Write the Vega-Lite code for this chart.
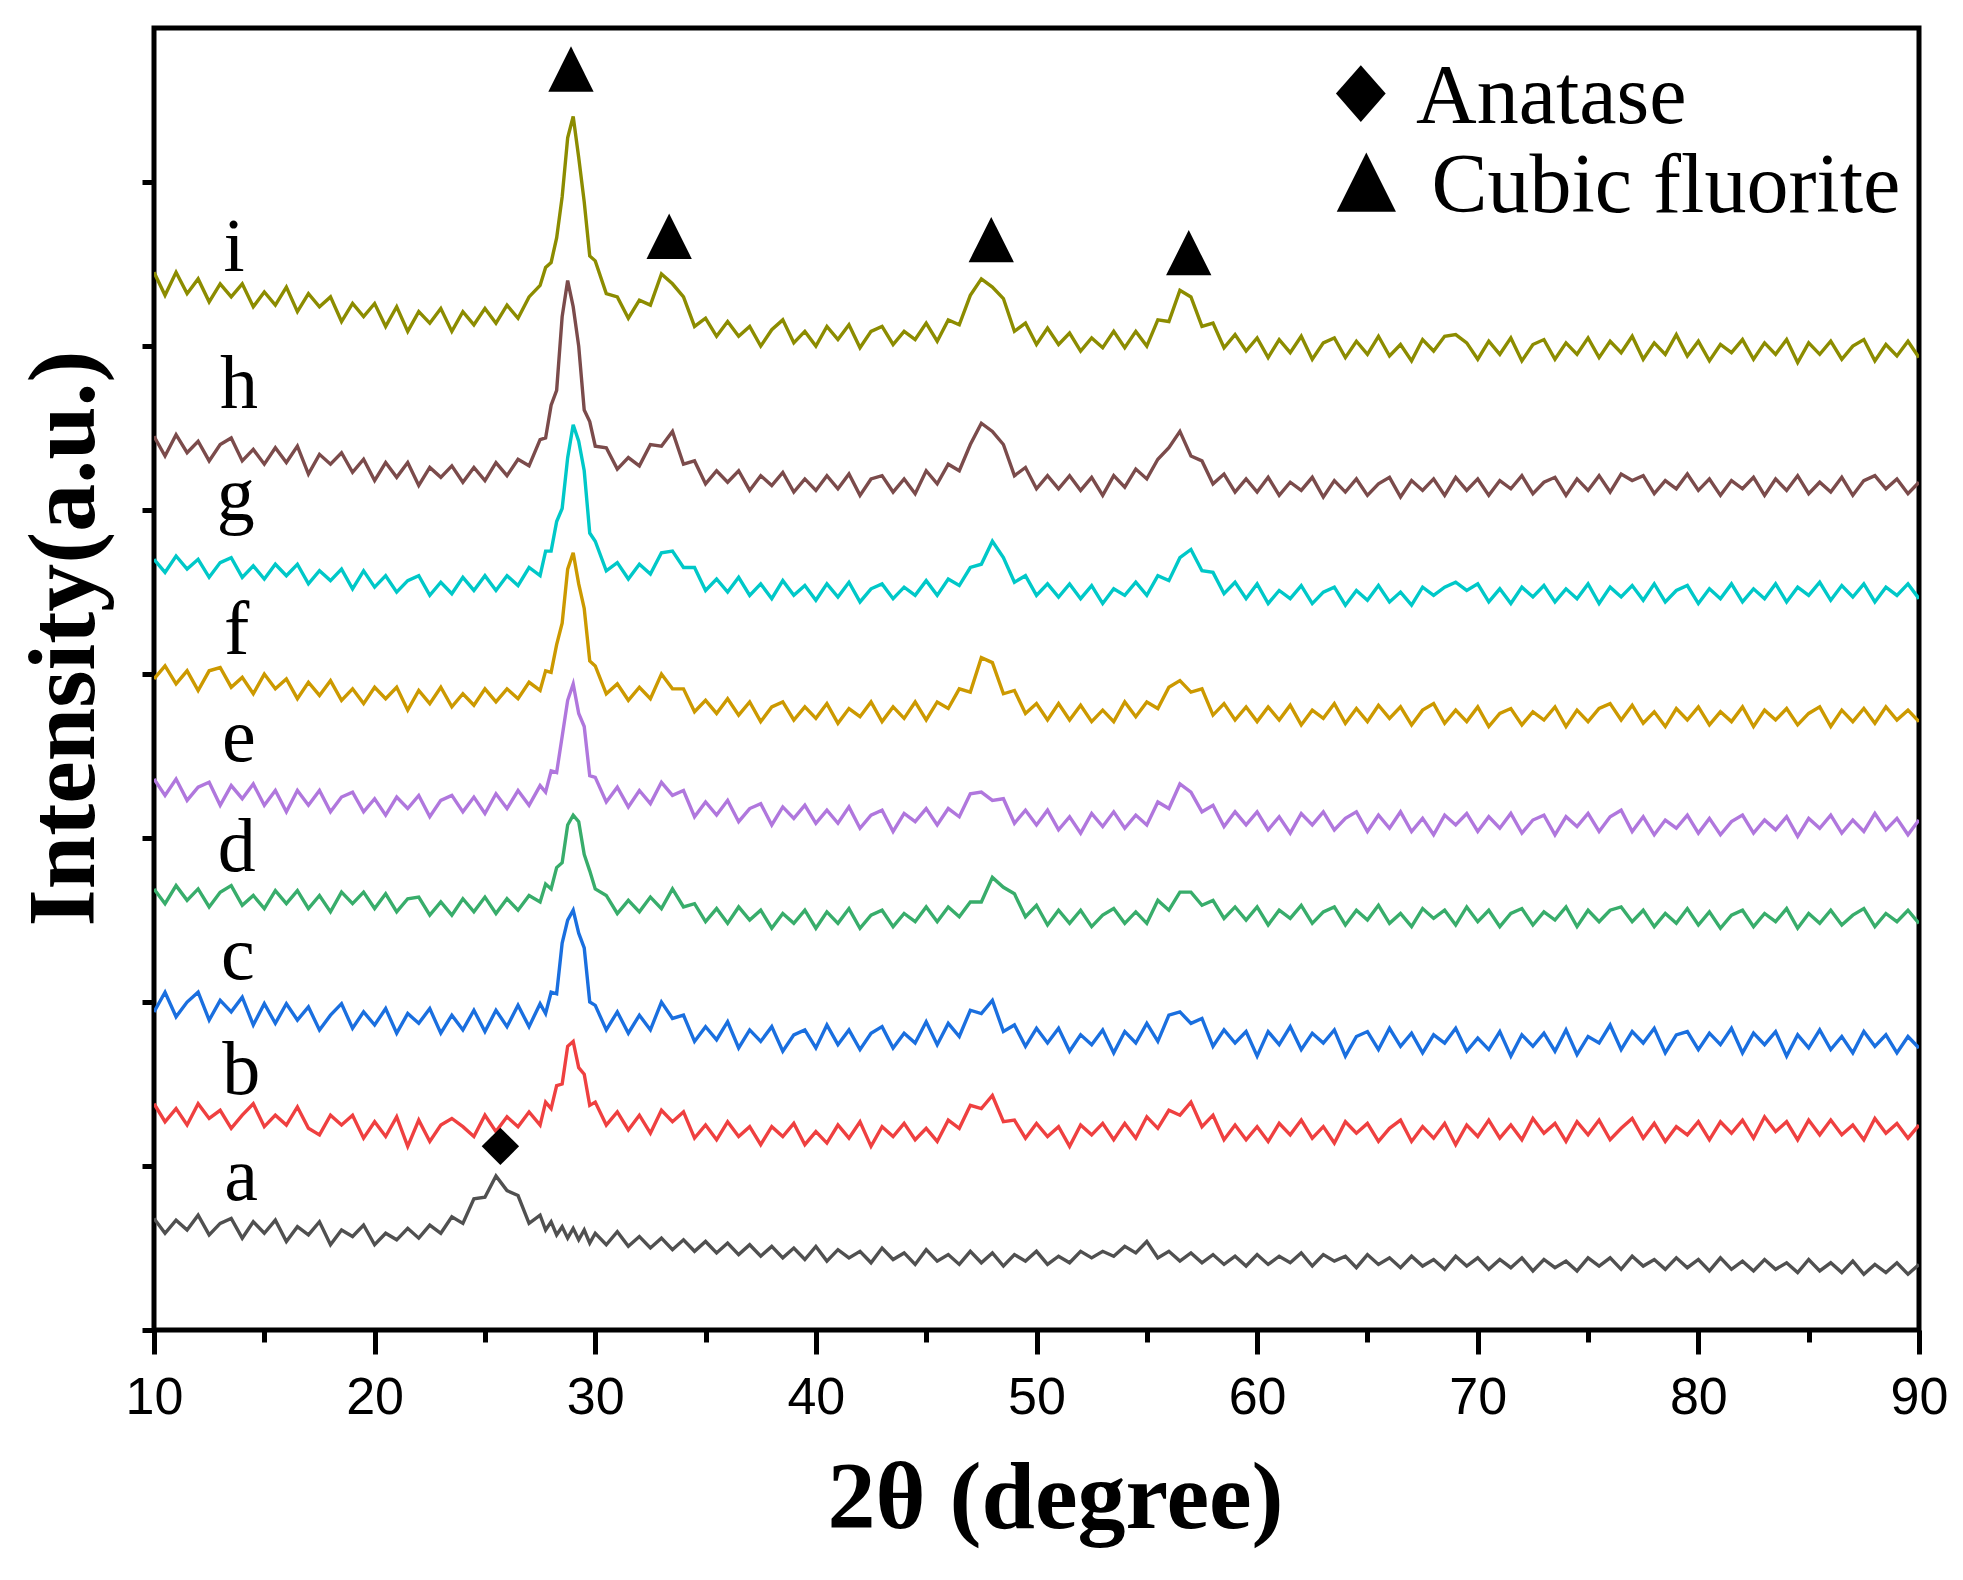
{
  "$schema": "https://vega.github.io/schema/vega-lite/v6.json",
  "width": 1765,
  "height": 1302,
  "autosize": {"type": "none"},
  "padding": {"left": 154, "top": 28, "right": 44, "bottom": 250},
  "background": "white",
  "config": {
    "view": {"stroke": "black", "strokeWidth": 5},
    "font": "Liberation Serif"
  },
  "datasets": {
    "xrd": [
      {"x":10,"a":0.68,"b":1.38,"c":1.94,"d":2.69,"e":3.36,"f":3.97,"g":4.70,"h":5.45,"i":6.45},
      {"x":10.5,"a":0.59,"b":1.27,"c":2.06,"d":2.60,"e":3.26,"f":4.05,"g":4.62,"h":5.33,"i":6.31},
      {"x":11,"a":0.67,"b":1.35,"c":1.91,"d":2.71,"e":3.36,"f":3.94,"g":4.72,"h":5.46,"i":6.45},
      {"x":11.5,"a":0.61,"b":1.25,"c":2.00,"d":2.62,"e":3.23,"f":4.02,"g":4.64,"h":5.35,"i":6.32},
      {"x":12,"a":0.70,"b":1.38,"c":2.06,"d":2.69,"e":3.31,"f":3.90,"g":4.70,"h":5.42,"i":6.41},
      {"x":12.5,"a":0.58,"b":1.29,"c":1.89,"d":2.58,"e":3.34,"f":4.02,"g":4.59,"h":5.30,"i":6.27},
      {"x":13,"a":0.65,"b":1.34,"c":2.01,"d":2.67,"e":3.20,"f":4.04,"g":4.68,"h":5.40,"i":6.38},
      {"x":13.5,"a":0.68,"b":1.23,"c":1.94,"d":2.71,"e":3.32,"f":3.92,"g":4.71,"h":5.44,"i":6.30},
      {"x":14,"a":0.56,"b":1.31,"c":2.03,"d":2.59,"e":3.24,"f":3.98,"g":4.59,"h":5.30,"i":6.38},
      {"x":14.5,"a":0.66,"b":1.38,"c":1.86,"d":2.65,"e":3.33,"f":3.88,"g":4.66,"h":5.37,"i":6.24},
      {"x":15,"a":0.59,"b":1.24,"c":1.99,"d":2.57,"e":3.20,"f":4.00,"g":4.58,"h":5.28,"i":6.33},
      {"x":15.5,"a":0.67,"b":1.31,"c":1.87,"d":2.68,"e":3.29,"f":3.91,"g":4.67,"h":5.38,"i":6.25},
      {"x":16,"a":0.54,"b":1.25,"c":1.99,"d":2.60,"e":3.16,"f":3.97,"g":4.60,"h":5.29,"i":6.36},
      {"x":16.5,"a":0.63,"b":1.36,"c":1.89,"d":2.68,"e":3.29,"f":3.85,"g":4.67,"h":5.39,"i":6.21},
      {"x":17,"a":0.58,"b":1.23,"c":1.97,"d":2.57,"e":3.20,"f":3.95,"g":4.55,"h":5.22,"i":6.32},
      {"x":17.5,"a":0.66,"b":1.19,"c":1.83,"d":2.65,"e":3.29,"f":3.87,"g":4.63,"h":5.34,"i":6.24},
      {"x":18,"a":0.52,"b":1.31,"c":1.92,"d":2.55,"e":3.16,"f":3.96,"g":4.57,"h":5.28,"i":6.30},
      {"x":18.5,"a":0.61,"b":1.25,"c":1.99,"d":2.67,"e":3.25,"f":3.84,"g":4.64,"h":5.35,"i":6.15},
      {"x":19,"a":0.57,"b":1.31,"c":1.84,"d":2.60,"e":3.28,"f":3.91,"g":4.52,"h":5.23,"i":6.26},
      {"x":19.5,"a":0.64,"b":1.17,"c":1.94,"d":2.67,"e":3.16,"f":3.82,"g":4.63,"h":5.31,"i":6.18},
      {"x":20,"a":0.52,"b":1.27,"c":1.86,"d":2.57,"e":3.24,"f":3.92,"g":4.53,"h":5.18,"i":6.26},
      {"x":20.5,"a":0.59,"b":1.18,"c":1.96,"d":2.66,"e":3.14,"f":3.85,"g":4.60,"h":5.29,"i":6.12},
      {"x":21,"a":0.55,"b":1.30,"c":1.81,"d":2.55,"e":3.25,"f":3.92,"g":4.50,"h":5.20,"i":6.24},
      {"x":21.5,"a":0.62,"b":1.12,"c":1.93,"d":2.63,"e":3.18,"f":3.78,"g":4.57,"h":5.29,"i":6.09},
      {"x":22,"a":0.56,"b":1.28,"c":1.87,"d":2.64,"e":3.26,"f":3.90,"g":4.60,"h":5.15,"i":6.21},
      {"x":22.5,"a":0.64,"b":1.15,"c":1.96,"d":2.53,"e":3.13,"f":3.82,"g":4.48,"h":5.26,"i":6.14},
      {"x":23,"a":0.59,"b":1.25,"c":1.81,"d":2.61,"e":3.23,"f":3.92,"g":4.56,"h":5.20,"i":6.23},
      {"x":23.5,"a":0.69,"b":1.29,"c":1.92,"d":2.53,"e":3.26,"f":3.80,"g":4.49,"h":5.27,"i":6.09},
      {"x":24,"a":0.65,"b":1.24,"c":1.83,"d":2.63,"e":3.16,"f":3.88,"g":4.59,"h":5.17,"i":6.21},
      {"x":24.5,"a":0.80,"b":1.18,"c":1.95,"d":2.55,"e":3.25,"f":3.81,"g":4.51,"h":5.26,"i":6.13},
      {"x":25,"a":0.81,"b":1.31,"c":1.82,"d":2.64,"e":3.15,"f":3.91,"g":4.60,"h":5.18,"i":6.23},
      {"x":25.5,"a":0.94,"b":1.21,"c":1.95,"d":2.54,"e":3.27,"f":3.83,"g":4.51,"h":5.29,"i":6.14},
      {"x":26,"a":0.85,"b":1.30,"c":1.85,"d":2.63,"e":3.18,"f":3.91,"g":4.60,"h":5.21,"i":6.25},
      {"x":26.5,"a":0.82,"b":1.24,"c":1.98,"d":2.56,"e":3.29,"f":3.85,"g":4.54,"h":5.31,"i":6.17},
      {"x":27,"a":0.65,"b":1.33,"c":1.85,"d":2.65,"e":3.20,"f":3.95,"g":4.65,"h":5.27,"i":6.30},
      {"x":27.5,"a":0.70,"b":1.25,"c":1.99,"d":2.61,"e":3.32,"f":3.90,"g":4.60,"h":5.43,"i":6.37},
      {"x":27.75,"a":0.61,"b":1.39,"c":1.93,"d":2.72,"e":3.28,"f":4.02,"g":4.75,"h":5.44,"i":6.48},
      {"x":28,"a":0.66,"b":1.35,"c":2.06,"d":2.69,"e":3.41,"f":4.01,"g":4.75,"h":5.64,"i":6.51},
      {"x":28.25,"a":0.58,"b":1.49,"c":2.05,"d":2.82,"e":3.40,"f":4.18,"g":4.93,"h":5.73,"i":6.66},
      {"x":28.5,"a":0.63,"b":1.50,"c":2.36,"d":2.85,"e":3.62,"f":4.31,"g":5.01,"h":6.18,"i":6.91},
      {"x":28.75,"a":0.56,"b":1.73,"c":2.50,"d":3.08,"e":3.84,"f":4.64,"g":5.32,"h":6.40,"i":7.27},
      {"x":29,"a":0.62,"b":1.76,"c":2.56,"d":3.14,"e":3.94,"f":4.74,"g":5.52,"h":6.24,"i":7.40},
      {"x":29.25,"a":0.55,"b":1.60,"c":2.42,"d":3.10,"e":3.76,"f":4.55,"g":5.42,"h":6.00,"i":7.15},
      {"x":29.5,"a":0.61,"b":1.56,"c":2.33,"d":2.90,"e":3.68,"f":4.40,"g":5.24,"h":5.61,"i":6.88},
      {"x":29.75,"a":0.53,"b":1.37,"c":2.00,"d":2.80,"e":3.38,"f":4.08,"g":4.86,"h":5.54,"i":6.55},
      {"x":30,"a":0.59,"b":1.39,"c":1.98,"d":2.69,"e":3.37,"f":4.05,"g":4.81,"h":5.39,"i":6.52},
      {"x":30.5,"a":0.52,"b":1.25,"c":1.83,"d":2.65,"e":3.22,"f":3.88,"g":4.63,"h":5.38,"i":6.32},
      {"x":31,"a":0.60,"b":1.33,"c":1.94,"d":2.54,"e":3.31,"f":3.94,"g":4.68,"h":5.25,"i":6.30},
      {"x":31.5,"a":0.51,"b":1.22,"c":1.81,"d":2.62,"e":3.19,"f":3.84,"g":4.58,"h":5.32,"i":6.17},
      {"x":32,"a":0.57,"b":1.31,"c":1.92,"d":2.55,"e":3.29,"f":3.92,"g":4.67,"h":5.27,"i":6.28},
      {"x":32.5,"a":0.50,"b":1.20,"c":1.83,"d":2.64,"e":3.21,"f":3.85,"g":4.61,"h":5.40,"i":6.25},
      {"x":33,"a":0.56,"b":1.34,"c":2.00,"d":2.57,"e":3.34,"f":4.00,"g":4.74,"h":5.39,"i":6.44},
      {"x":33.5,"a":0.49,"b":1.27,"c":1.90,"d":2.69,"e":3.26,"f":3.91,"g":4.75,"h":5.48,"i":6.38},
      {"x":34,"a":0.55,"b":1.33,"c":1.92,"d":2.58,"e":3.29,"f":3.91,"g":4.65,"h":5.28,"i":6.30},
      {"x":34.5,"a":0.48,"b":1.17,"c":1.76,"d":2.60,"e":3.13,"f":3.77,"g":4.65,"h":5.30,"i":6.12},
      {"x":35,"a":0.54,"b":1.25,"c":1.85,"d":2.49,"e":3.22,"f":3.84,"g":4.51,"h":5.16,"i":6.17},
      {"x":35.5,"a":0.47,"b":1.16,"c":1.77,"d":2.57,"e":3.14,"f":3.76,"g":4.58,"h":5.24,"i":6.06},
      {"x":36,"a":0.53,"b":1.27,"c":1.88,"d":2.48,"e":3.23,"f":3.85,"g":4.50,"h":5.17,"i":6.15},
      {"x":36.5,"a":0.46,"b":1.18,"c":1.72,"d":2.58,"e":3.10,"f":3.75,"g":4.59,"h":5.24,"i":6.06},
      {"x":37,"a":0.52,"b":1.24,"c":1.83,"d":2.50,"e":3.18,"f":3.83,"g":4.48,"h":5.12,"i":6.12},
      {"x":37.5,"a":0.45,"b":1.13,"c":1.76,"d":2.56,"e":3.21,"f":3.71,"g":4.55,"h":5.21,"i":6.00},
      {"x":38,"a":0.51,"b":1.24,"c":1.85,"d":2.45,"e":3.08,"f":3.80,"g":4.46,"h":5.15,"i":6.10},
      {"x":38.5,"a":0.44,"b":1.18,"c":1.70,"d":2.54,"e":3.19,"f":3.83,"g":4.57,"h":5.23,"i":6.16},
      {"x":39,"a":0.50,"b":1.26,"c":1.80,"d":2.48,"e":3.12,"f":3.72,"g":4.48,"h":5.11,"i":6.02},
      {"x":39.5,"a":0.43,"b":1.13,"c":1.83,"d":2.56,"e":3.20,"f":3.80,"g":4.54,"h":5.19,"i":6.09},
      {"x":40,"a":0.51,"b":1.21,"c":1.72,"d":2.45,"e":3.09,"f":3.73,"g":4.45,"h":5.12,"i":6.00},
      {"x":40.5,"a":0.42,"b":1.14,"c":1.86,"d":2.55,"e":3.17,"f":3.82,"g":4.55,"h":5.21,"i":6.12},
      {"x":41,"a":0.49,"b":1.25,"c":1.74,"d":2.48,"e":3.09,"f":3.70,"g":4.47,"h":5.13,"i":6.04},
      {"x":41.5,"a":0.44,"b":1.17,"c":1.83,"d":2.57,"e":3.19,"f":3.79,"g":4.56,"h":5.22,"i":6.13},
      {"x":42,"a":0.48,"b":1.27,"c":1.71,"d":2.45,"e":3.06,"f":3.74,"g":4.44,"h":5.09,"i":5.99},
      {"x":42.5,"a":0.41,"b":1.12,"c":1.81,"d":2.53,"e":3.14,"f":3.83,"g":4.52,"h":5.19,"i":6.09},
      {"x":43,"a":0.50,"b":1.24,"c":1.85,"d":2.56,"e":3.17,"f":3.71,"g":4.55,"h":5.21,"i":6.12},
      {"x":43.5,"a":0.43,"b":1.18,"c":1.72,"d":2.46,"e":3.04,"f":3.80,"g":4.46,"h":5.11,"i":6.01},
      {"x":44,"a":0.47,"b":1.26,"c":1.81,"d":2.54,"e":3.15,"f":3.73,"g":4.53,"h":5.19,"i":6.09},
      {"x":44.5,"a":0.40,"b":1.16,"c":1.75,"d":2.49,"e":3.10,"f":3.83,"g":4.48,"h":5.10,"i":6.04},
      {"x":45,"a":0.49,"b":1.23,"c":1.88,"d":2.58,"e":3.18,"f":3.72,"g":4.57,"h":5.24,"i":6.14},
      {"x":45.5,"a":0.42,"b":1.15,"c":1.74,"d":2.49,"e":3.08,"f":3.83,"g":4.48,"h":5.16,"i":6.03},
      {"x":46,"a":0.46,"b":1.28,"c":1.87,"d":2.58,"e":3.18,"f":3.79,"g":4.58,"h":5.28,"i":6.16},
      {"x":46.5,"a":0.40,"b":1.23,"c":1.79,"d":2.52,"e":3.13,"f":3.91,"g":4.54,"h":5.24,"i":6.13},
      {"x":47,"a":0.48,"b":1.37,"c":1.95,"d":2.61,"e":3.27,"f":3.89,"g":4.65,"h":5.40,"i":6.31},
      {"x":47.5,"a":0.41,"b":1.35,"c":1.93,"d":2.61,"e":3.28,"f":4.10,"g":4.67,"h":5.53,"i":6.41},
      {"x":48,"a":0.47,"b":1.43,"c":2.01,"d":2.76,"e":3.23,"f":4.07,"g":4.81,"h":5.48,"i":6.36},
      {"x":48.5,"a":0.39,"b":1.27,"c":1.82,"d":2.70,"e":3.24,"f":3.88,"g":4.71,"h":5.40,"i":6.29},
      {"x":49,"a":0.46,"b":1.28,"c":1.86,"d":2.66,"e":3.09,"f":3.90,"g":4.56,"h":5.21,"i":6.09},
      {"x":49.5,"a":0.42,"b":1.17,"c":1.73,"d":2.52,"e":3.17,"f":3.76,"g":4.60,"h":5.26,"i":6.14},
      {"x":50,"a":0.48,"b":1.26,"c":1.84,"d":2.59,"e":3.08,"f":3.82,"g":4.48,"h":5.13,"i":6.01},
      {"x":50.5,"a":0.40,"b":1.18,"c":1.75,"d":2.47,"e":3.17,"f":3.72,"g":4.55,"h":5.21,"i":6.11},
      {"x":51,"a":0.45,"b":1.24,"c":1.84,"d":2.56,"e":3.05,"f":3.82,"g":4.47,"h":5.13,"i":6.01},
      {"x":51.5,"a":0.41,"b":1.12,"c":1.70,"d":2.48,"e":3.13,"f":3.72,"g":4.55,"h":5.21,"i":6.08},
      {"x":52,"a":0.48,"b":1.25,"c":1.80,"d":2.56,"e":3.03,"f":3.81,"g":4.46,"h":5.12,"i":5.97},
      {"x":52.5,"a":0.44,"b":1.19,"c":1.74,"d":2.46,"e":3.15,"f":3.71,"g":4.54,"h":5.20,"i":6.05},
      {"x":53,"a":0.48,"b":1.26,"c":1.83,"d":2.53,"e":3.07,"f":3.78,"g":4.43,"h":5.09,"i":5.99},
      {"x":53.5,"a":0.45,"b":1.16,"c":1.69,"d":2.57,"e":3.16,"f":3.71,"g":4.52,"h":5.21,"i":6.09},
      {"x":54,"a":0.51,"b":1.26,"c":1.82,"d":2.48,"e":3.06,"f":3.83,"g":4.48,"h":5.14,"i":5.99},
      {"x":54.5,"a":0.47,"b":1.17,"c":1.75,"d":2.55,"e":3.14,"f":3.74,"g":4.56,"h":5.25,"i":6.09},
      {"x":55,"a":0.54,"b":1.30,"c":1.87,"d":2.48,"e":3.08,"f":3.83,"g":4.48,"h":5.19,"i":6.00},
      {"x":55.5,"a":0.44,"b":1.23,"c":1.76,"d":2.62,"e":3.22,"f":3.79,"g":4.60,"h":5.31,"i":6.16},
      {"x":56,"a":0.48,"b":1.34,"c":1.92,"d":2.56,"e":3.18,"f":3.92,"g":4.57,"h":5.38,"i":6.15},
      {"x":56.5,"a":0.42,"b":1.31,"c":1.94,"d":2.67,"e":3.33,"f":3.96,"g":4.71,"h":5.48,"i":6.34},
      {"x":57,"a":0.47,"b":1.39,"c":1.87,"d":2.67,"e":3.28,"f":3.89,"g":4.76,"h":5.33,"i":6.30},
      {"x":57.5,"a":0.41,"b":1.24,"c":1.90,"d":2.59,"e":3.16,"f":3.91,"g":4.63,"h":5.30,"i":6.12},
      {"x":58,"a":0.46,"b":1.31,"c":1.73,"d":2.62,"e":3.20,"f":3.75,"g":4.62,"h":5.16,"i":6.14},
      {"x":58.5,"a":0.40,"b":1.16,"c":1.83,"d":2.51,"e":3.07,"f":3.82,"g":4.49,"h":5.22,"i":5.99},
      {"x":59,"a":0.45,"b":1.25,"c":1.75,"d":2.58,"e":3.16,"f":3.72,"g":4.56,"h":5.11,"i":6.07},
      {"x":59.5,"a":0.39,"b":1.16,"c":1.82,"d":2.50,"e":3.08,"f":3.80,"g":4.46,"h":5.19,"i":5.97},
      {"x":60,"a":0.46,"b":1.24,"c":1.67,"d":2.58,"e":3.16,"f":3.71,"g":4.55,"h":5.11,"i":6.05},
      {"x":60.5,"a":0.40,"b":1.15,"c":1.82,"d":2.47,"e":3.05,"f":3.80,"g":4.43,"h":5.20,"i":5.93},
      {"x":61,"a":0.45,"b":1.26,"c":1.74,"d":2.56,"e":3.13,"f":3.72,"g":4.51,"h":5.09,"i":6.04},
      {"x":61.5,"a":0.41,"b":1.19,"c":1.85,"d":2.51,"e":3.03,"f":3.81,"g":4.46,"h":5.17,"i":5.96},
      {"x":62,"a":0.47,"b":1.28,"c":1.71,"d":2.59,"e":3.15,"f":3.69,"g":4.54,"h":5.12,"i":6.06},
      {"x":62.5,"a":0.39,"b":1.17,"c":1.81,"d":2.48,"e":3.08,"f":3.78,"g":4.43,"h":5.20,"i":5.92},
      {"x":63,"a":0.46,"b":1.24,"c":1.75,"d":2.55,"e":3.16,"f":3.73,"g":4.50,"h":5.08,"i":6.02},
      {"x":63.5,"a":0.42,"b":1.14,"c":1.83,"d":2.58,"e":3.05,"f":3.82,"g":4.53,"h":5.18,"i":6.05},
      {"x":64,"a":0.45,"b":1.27,"c":1.67,"d":2.47,"e":3.12,"f":3.70,"g":4.42,"h":5.11,"i":5.93},
      {"x":64.5,"a":0.38,"b":1.20,"c":1.79,"d":2.56,"e":3.16,"f":3.79,"g":4.51,"h":5.19,"i":6.03},
      {"x":65,"a":0.46,"b":1.26,"c":1.82,"d":2.50,"e":3.04,"f":3.71,"g":4.45,"h":5.09,"i":5.95},
      {"x":65.5,"a":0.40,"b":1.15,"c":1.71,"d":2.59,"e":3.14,"f":3.81,"g":4.54,"h":5.16,"i":6.06},
      {"x":66,"a":0.44,"b":1.23,"c":1.84,"d":2.48,"e":3.06,"f":3.73,"g":4.44,"h":5.20,"i":5.94},
      {"x":66.5,"a":0.38,"b":1.28,"c":1.73,"d":2.54,"e":3.16,"f":3.80,"g":4.50,"h":5.08,"i":6.01},
      {"x":67,"a":0.45,"b":1.15,"c":1.81,"d":2.46,"e":3.04,"f":3.69,"g":4.42,"h":5.18,"i":5.91},
      {"x":67.5,"a":0.39,"b":1.24,"c":1.69,"d":2.57,"e":3.12,"f":3.78,"g":4.53,"h":5.12,"i":6.04},
      {"x":68,"a":0.43,"b":1.17,"c":1.80,"d":2.51,"e":3.02,"f":3.82,"g":4.48,"h":5.19,"i":5.97},
      {"x":68.5,"a":0.37,"b":1.26,"c":1.75,"d":2.56,"e":3.14,"f":3.70,"g":4.53,"h":5.09,"i":6.06},
      {"x":69,"a":0.45,"b":1.13,"c":1.84,"d":2.47,"e":3.08,"f":3.78,"g":4.56,"h":5.20,"i":6.07},
      {"x":69.5,"a":0.39,"b":1.25,"c":1.70,"d":2.58,"e":3.15,"f":3.71,"g":4.51,"h":5.12,"i":6.02},
      {"x":70,"a":0.44,"b":1.18,"c":1.78,"d":2.49,"e":3.04,"f":3.80,"g":4.55,"h":5.19,"i":5.92},
      {"x":70.5,"a":0.37,"b":1.28,"c":1.71,"d":2.56,"e":3.13,"f":3.68,"g":4.44,"h":5.09,"i":6.03},
      {"x":71,"a":0.43,"b":1.17,"c":1.82,"d":2.46,"e":3.06,"f":3.76,"g":4.52,"h":5.18,"i":5.95},
      {"x":71.5,"a":0.38,"b":1.25,"c":1.67,"d":2.54,"e":3.15,"f":3.79,"g":4.43,"h":5.13,"i":6.05},
      {"x":72,"a":0.44,"b":1.16,"c":1.80,"d":2.57,"e":3.03,"f":3.69,"g":4.53,"h":5.21,"i":5.91},
      {"x":72.5,"a":0.36,"b":1.29,"c":1.73,"d":2.47,"e":3.11,"f":3.77,"g":4.47,"h":5.10,"i":6.01},
      {"x":73,"a":0.43,"b":1.20,"c":1.81,"d":2.55,"e":3.14,"f":3.72,"g":4.54,"h":5.17,"i":6.04},
      {"x":73.5,"a":0.38,"b":1.26,"c":1.70,"d":2.50,"e":3.02,"f":3.80,"g":4.44,"h":5.20,"i":5.92},
      {"x":74,"a":0.42,"b":1.15,"c":1.83,"d":2.58,"e":3.13,"f":3.68,"g":4.52,"h":5.09,"i":6.02},
      {"x":74.5,"a":0.36,"b":1.27,"c":1.68,"d":2.46,"e":3.07,"f":3.78,"g":4.46,"h":5.19,"i":5.95},
      {"x":75,"a":0.44,"b":1.19,"c":1.79,"d":2.56,"e":3.15,"f":3.71,"g":4.55,"h":5.12,"i":6.05},
      {"x":75.5,"a":0.39,"b":1.28,"c":1.75,"d":2.49,"e":3.04,"f":3.79,"g":4.43,"h":5.21,"i":5.93},
      {"x":76,"a":0.44,"b":1.16,"c":1.86,"d":2.56,"e":3.13,"f":3.82,"g":4.53,"h":5.11,"i":6.03},
      {"x":76.5,"a":0.37,"b":1.23,"c":1.71,"d":2.58,"e":3.17,"f":3.72,"g":4.47,"h":5.22,"i":5.96},
      {"x":77,"a":0.45,"b":1.29,"c":1.82,"d":2.49,"e":3.04,"f":3.81,"g":4.54,"h":5.18,"i":6.06},
      {"x":77.5,"a":0.39,"b":1.17,"c":1.75,"d":2.56,"e":3.13,"f":3.70,"g":4.45,"h":5.21,"i":5.92},
      {"x":78,"a":0.43,"b":1.26,"c":1.84,"d":2.46,"e":3.02,"f":3.77,"g":4.55,"h":5.10,"i":6.02},
      {"x":78.5,"a":0.37,"b":1.15,"c":1.69,"d":2.54,"e":3.11,"f":3.68,"g":4.44,"h":5.18,"i":5.95},
      {"x":79,"a":0.44,"b":1.24,"c":1.80,"d":2.48,"e":3.06,"f":3.79,"g":4.51,"h":5.13,"i":6.07},
      {"x":79.5,"a":0.38,"b":1.19,"c":1.82,"d":2.57,"e":3.14,"f":3.72,"g":4.54,"h":5.22,"i":5.94},
      {"x":80,"a":0.43,"b":1.27,"c":1.71,"d":2.47,"e":3.03,"f":3.80,"g":4.43,"h":5.12,"i":6.03},
      {"x":80.5,"a":0.36,"b":1.16,"c":1.81,"d":2.55,"e":3.12,"f":3.69,"g":4.52,"h":5.19,"i":5.91},
      {"x":81,"a":0.44,"b":1.27,"c":1.74,"d":2.45,"e":3.02,"f":3.77,"g":4.46,"h":5.09,"i":6.01},
      {"x":81.5,"a":0.37,"b":1.20,"c":1.84,"d":2.53,"e":3.10,"f":3.71,"g":4.55,"h":5.18,"i":5.96},
      {"x":82,"a":0.42,"b":1.28,"c":1.69,"d":2.56,"e":3.14,"f":3.80,"g":4.44,"h":5.13,"i":6.04},
      {"x":82.5,"a":0.36,"b":1.17,"c":1.81,"d":2.46,"e":3.03,"f":3.68,"g":4.52,"h":5.20,"i":5.92},
      {"x":83,"a":0.43,"b":1.30,"c":1.74,"d":2.54,"e":3.11,"f":3.78,"g":4.46,"h":5.09,"i":6.02},
      {"x":83.5,"a":0.37,"b":1.21,"c":1.82,"d":2.49,"e":3.05,"f":3.72,"g":4.55,"h":5.19,"i":5.95},
      {"x":84,"a":0.41,"b":1.27,"c":1.67,"d":2.57,"e":3.13,"f":3.79,"g":4.44,"h":5.12,"i":6.04},
      {"x":84.5,"a":0.35,"b":1.16,"c":1.80,"d":2.45,"e":3.01,"f":3.69,"g":4.53,"h":5.21,"i":5.90},
      {"x":85,"a":0.43,"b":1.28,"c":1.72,"d":2.54,"e":3.12,"f":3.76,"g":4.48,"h":5.10,"i":6.02},
      {"x":85.5,"a":0.36,"b":1.19,"c":1.83,"d":2.48,"e":3.06,"f":3.80,"g":4.56,"h":5.17,"i":5.95},
      {"x":86,"a":0.41,"b":1.28,"c":1.71,"d":2.56,"e":3.14,"f":3.68,"g":4.45,"h":5.11,"i":6.03},
      {"x":86.5,"a":0.35,"b":1.19,"c":1.79,"d":2.47,"e":3.03,"f":3.78,"g":4.54,"h":5.20,"i":5.92},
      {"x":87,"a":0.42,"b":1.25,"c":1.69,"d":2.53,"e":3.11,"f":3.71,"g":4.47,"h":5.09,"i":6.00},
      {"x":87.5,"a":0.34,"b":1.16,"c":1.82,"d":2.57,"e":3.04,"f":3.79,"g":4.55,"h":5.18,"i":6.04},
      {"x":88,"a":0.40,"b":1.29,"c":1.73,"d":2.46,"e":3.15,"f":3.70,"g":4.44,"h":5.21,"i":5.91},
      {"x":88.5,"a":0.35,"b":1.20,"c":1.80,"d":2.54,"e":3.05,"f":3.80,"g":4.53,"h":5.13,"i":6.01},
      {"x":89,"a":0.41,"b":1.26,"c":1.69,"d":2.49,"e":3.12,"f":3.72,"g":4.48,"h":5.19,"i":5.94},
      {"x":89.5,"a":0.34,"b":1.17,"c":1.79,"d":2.56,"e":3.02,"f":3.78,"g":4.55,"h":5.10,"i":6.03},
      {"x":90,"a":0.40,"b":1.25,"c":1.72,"d":2.48,"e":3.11,"f":3.71,"g":4.46,"h":5.17,"i":5.93}
    ],
    "peaks": [
      {"x": 28.9, "y": 7.69, "phase": "Cubic fluorite"},
      {"x": 33.35, "y": 6.67, "phase": "Cubic fluorite"},
      {"x": 47.95, "y": 6.65, "phase": "Cubic fluorite"},
      {"x": 56.9, "y": 6.57, "phase": "Cubic fluorite"},
      {"x": 25.7, "y": 1.12, "phase": "Anatase"}
    ],
    "key": [
      {"x": 64.7, "y": 7.54, "tx": 67.2, "ty": 7.36, "phase": "Anatase"},
      {"x": 64.95, "y": 7.0, "tx": 67.9, "ty": 6.82, "phase": "Cubic fluorite"}
    ],
    "labels": [
      {"x": 13.95, "y": 0.79, "t": "a"},
      {"x": 13.95, "y": 1.44, "t": "b"},
      {"x": 13.8, "y": 2.14, "t": "c"},
      {"x": 13.75, "y": 2.80, "t": "d"},
      {"x": 13.85, "y": 3.47, "t": "e"},
      {"x": 13.75, "y": 4.12, "t": "f"},
      {"x": 13.7, "y": 4.94, "t": "g"},
      {"x": 13.85, "y": 5.62, "t": "h"},
      {"x": 13.63, "y": 6.46, "t": "i"}
    ]
  },
  "encoding": {
    "x": {
      "field": "x",
      "type": "quantitative",
      "scale": {"domain": [10, 90], "nice": false, "zero": false},
      "axis": {
        "values": [10, 15, 20, 25, 30, 35, 40, 45, 50, 55, 60, 65, 70, 75, 80, 85, 90],
        "labelExpr": "datum.value % 10 === 0 ? datum.label : ''",
        "domain": false,
        "grid": false,
        "tickColor": "black",
        "tickWidth": 5,
        "tickSize": {"condition": {"test": "datum.value % 10 === 0", "value": 24}, "value": 12},
        "labelPadding": 18,
        "labelFont": "Liberation Sans",
        "labelFontSize": 52,
        "labelColor": "black",
        "labelFlush": false,
        "labelOverlap": false,
        "title": "2θ (degree)",
        "titleFont": "Liberation Serif",
        "titleFontWeight": "bold",
        "titleFontSize": 96,
        "titleColor": "black",
        "titleX": 901,
        "titleY": 197,
        "titleBaseline": "alphabetic",
        "titleAlign": "center"
      }
    },
    "y": {
      "field": "y",
      "type": "quantitative",
      "scale": {"domain": [0, 7.94], "nice": false, "zero": false},
      "axis": {
        "values": [0, 1, 2, 3, 4, 5, 6, 7],
        "labels": false,
        "domain": false,
        "grid": false,
        "tickColor": "black",
        "tickWidth": 5,
        "tickSize": 12,
        "title": "Intensity(a.u.)",
        "titleFont": "Liberation Serif",
        "titleFontWeight": "bold",
        "titleFontSize": 96,
        "titleColor": "black",
        "titleAngle": 270,
        "titleX": -61,
        "titleY": 610,
        "titleBaseline": "alphabetic",
        "titleAlign": "center"
      }
    }
  },
  "layer": [
    {
      "data": {"name": "xrd"},
      "transform": [{"fold": ["a", "b", "c", "d", "e", "f", "g", "h", "i"], "as": ["series", "y"]}],
      "mark": {"type": "line", "strokeWidth": 3.4, "strokeJoin": "miter", "clip": true},
      "encoding": {
        "color": {
          "field": "series",
          "type": "nominal",
          "scale": {
            "domain": ["a", "b", "c", "d", "e", "f", "g", "h", "i"],
            "range": ["#505050", "#ef4040", "#1a6fdf", "#38ad6b", "#b077dd", "#cc9900", "#00c8c8", "#7b4b4b", "#8c8c00"]
          },
          "legend": null
        }
      }
    },
    {
      "data": {"name": "peaks"},
      "transform": [{"filter": "datum.phase === 'Cubic fluorite'"}],
      "mark": {"type": "point", "shape": "M0,-1L1,1L-1,1Z", "size": 2050, "filled": true, "color": "black", "opacity": 1, "strokeWidth": 0}
    },
    {
      "data": {"name": "peaks"},
      "transform": [{"filter": "datum.phase === 'Anatase'"}],
      "mark": {"type": "point", "shape": "diamond", "size": 1400, "filled": true, "color": "black", "opacity": 1, "strokeWidth": 0}
    },
    {
      "data": {"name": "key"},
      "transform": [{"filter": "datum.phase === 'Anatase'"}],
      "mark": {"type": "point", "shape": "M0,-1L0.88,0L0,1L-0.88,0Z", "size": 3200, "filled": true, "color": "black", "opacity": 1, "strokeWidth": 0}
    },
    {
      "data": {"name": "key"},
      "transform": [{"filter": "datum.phase === 'Cubic fluorite'"}],
      "mark": {"type": "point", "shape": "M0,-1L1,1L-1,1Z", "size": 3500, "filled": true, "color": "black", "opacity": 1, "strokeWidth": 0}
    },
    {
      "data": {"name": "key"},
      "mark": {"type": "text", "align": "left", "baseline": "alphabetic", "font": "Liberation Serif", "fontSize": 84, "color": "black"},
      "encoding": {
        "x": {"field": "tx", "type": "quantitative"},
        "y": {"field": "ty", "type": "quantitative"},
        "text": {"field": "phase", "type": "nominal"}
      }
    },
    {
      "data": {"name": "labels"},
      "mark": {"type": "text", "align": "center", "baseline": "alphabetic", "font": "Liberation Serif", "fontSize": 76, "color": "black"},
      "encoding": {
        "text": {"field": "t", "type": "nominal"}
      }
    }
  ]
}
